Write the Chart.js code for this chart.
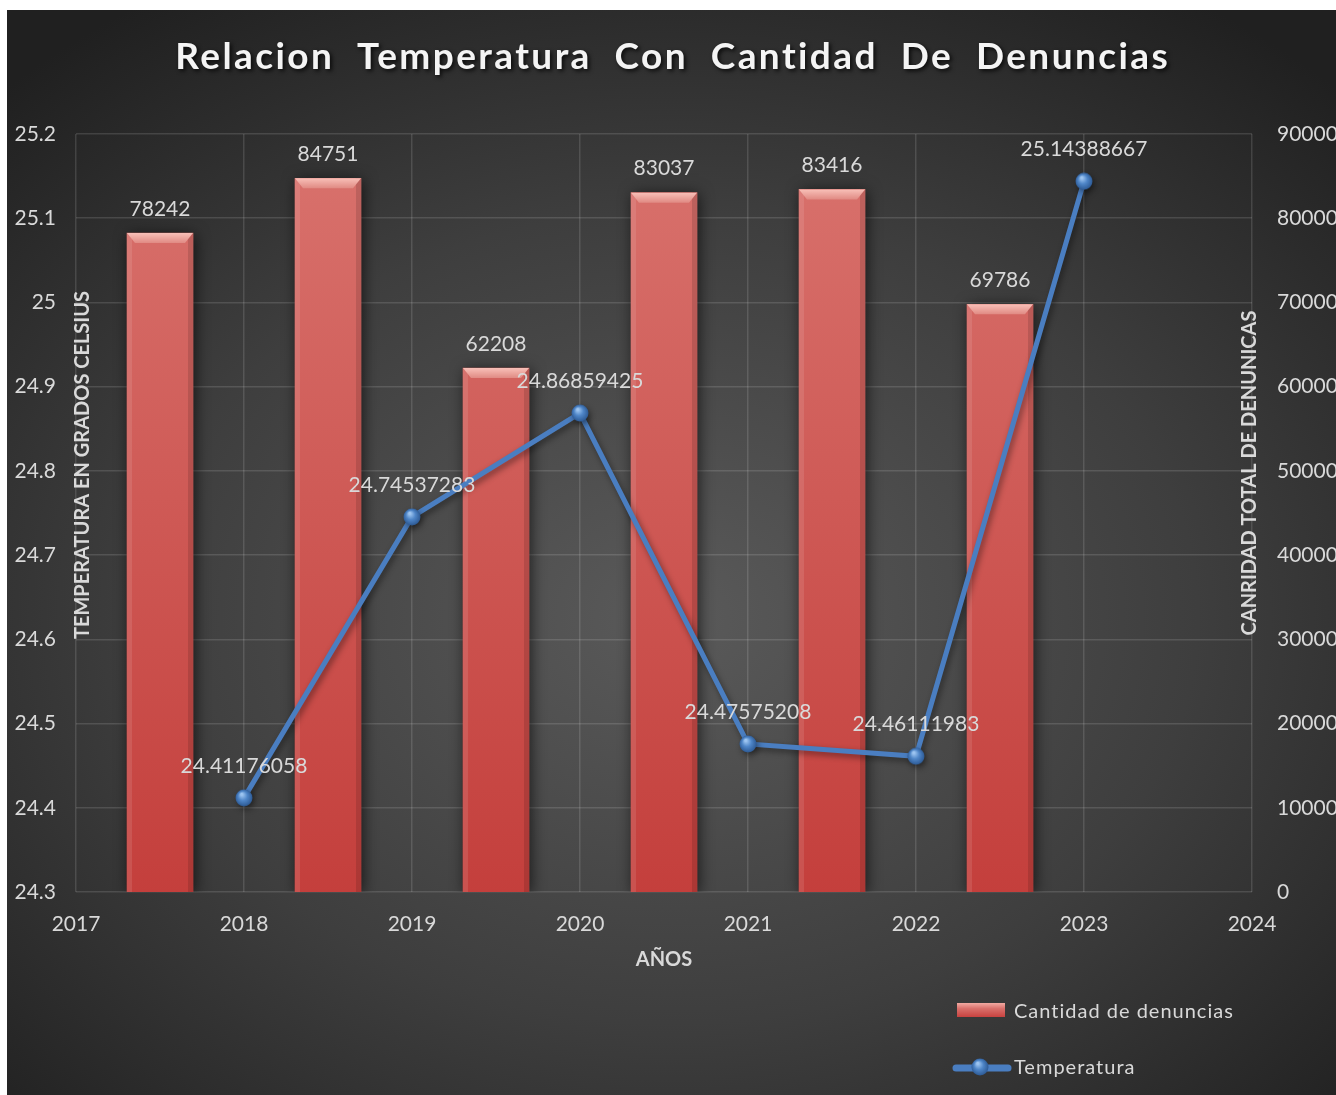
<!DOCTYPE html>
<html>
<head>
<meta charset="utf-8">
<script src="https://cdn.jsdelivr.net/npm/chart.js@4.4.1/dist/chart.umd.min.js"></script>
<style>
  html, body { margin: 0; padding: 0; background: #fff; }
  #wrap {
    position: absolute; left: 7px; top: 10px; width: 1329px; height: 1085px;
    background: radial-gradient(ellipse 72% 68% at 50% 56%, #5a5a5a 0%, #3e3e3e 55%, #202020 100%);
  }
  canvas { display: block; }
</style>
</head>
<body>
<div id="wrap"><canvas id="chart" width="1329" height="1085"></canvas></div>
<script>
// data
const years = [2018, 2019, 2020, 2021, 2022, 2023];
const denuncias = [78242, 84751, 62208, 83037, 83416, 69786];
const temperatura = [24.41176058, 24.74537283, 24.86859425, 24.47575208, 24.46111983, 25.14388667];
const xTicks = [2017, 2018, 2019, 2020, 2021, 2022, 2023, 2024];

const FONT = 'Lato, "Open Sans", sans-serif';
const TXT = '#d9d9d9';
const GRID = 'rgba(255,255,255,0.13)';

// little blue sphere for the points
function makeSphere(r) {
	const c = document.createElement('canvas');
	c.width = c.height = r * 2;
	const g = c.getContext('2d');
	const grad = g.createRadialGradient(r * 0.75, r * 0.6, 1, r, r, r);
	grad.addColorStop(0, '#9cc4f0');
	grad.addColorStop(0.45, '#4f86c8');
	grad.addColorStop(1, '#2a5690');
	g.fillStyle = grad;
	g.beginPath();
	g.arc(r, r, r - 0.5, 0, Math.PI * 2);
	g.fill();
	return c;
}
const sphere = makeSphere(9);

function barFill(c) {
	const a = c.chart.chartArea;
	if (!a) return '#cf5a56';
	const g = c.chart.ctx.createLinearGradient(0, a.top, 0, a.bottom);
	g.addColorStop(0, '#d9736e');
	g.addColorStop(1, '#c43f3c');
	return g;
}

// shadows + bevel on the bars
const shading = {
	id: 'shading',
	beforeDatasetDraw(chart, args) {
		const ctx = chart.ctx;
		ctx.save();
		if (args.meta.type === 'bar') {
			ctx.shadowColor = 'rgba(0,0,0,0.65)';
			ctx.shadowBlur = 14;
			ctx.shadowOffsetX = 2;
			ctx.shadowOffsetY = 2;
		} else {
			ctx.shadowColor = 'rgba(0,0,0,0.45)';
			ctx.shadowBlur = 6;
			ctx.shadowOffsetX = 2;
			ctx.shadowOffsetY = 3;
		}
	},
	afterDatasetDraw(chart, args) {
		const ctx = chart.ctx;
		ctx.restore();
		if (args.meta.type !== 'bar') return;
		args.meta.data.forEach(el => {
			const w = el.width, l = el.x - w / 2, r = el.x + w / 2, t = el.y, b = el.base;
			ctx.save();
			ctx.fillStyle = 'rgba(255,255,255,0.10)';
			ctx.fillRect(l, t, 5, b - t);
			ctx.fillStyle = 'rgba(0,0,0,0.12)';
			ctx.fillRect(r - 5, t, 5, b - t);
			const g = ctx.createLinearGradient(0, t, 0, t + 10);
			g.addColorStop(0, '#f8c0b8');
			g.addColorStop(1, '#e08a83');
			ctx.fillStyle = g;
			ctx.beginPath();
			ctx.moveTo(l, t);
			ctx.lineTo(r, t);
			ctx.lineTo(r - 8, t + 10);
			ctx.lineTo(l + 8, t + 10);
			ctx.closePath();
			ctx.fill();
			ctx.restore();
		});
	}
};

// value labels, titles and legend
const decor = {
	id: 'decor',
	afterDatasetsDraw(chart) {
		const ctx = chart.ctx;
		ctx.save();
		ctx.fillStyle = TXT;
		ctx.font = '21px ' + FONT;
		ctx.textAlign = 'center';
		ctx.textBaseline = 'middle';
		chart.data.datasets.forEach((ds, di) => {
			const meta = chart.getDatasetMeta(di);
			meta.data.forEach((el, i) => {
				if (meta.type === 'bar') {
					ctx.fillText(String(denuncias[i]), el.x, el.y - 24);
				} else {
					ctx.fillText(String(temperatura[i]), el.x, el.y - 32);
				}
			});
		});
		ctx.restore();
	},
	afterDraw(chart) {
		const ctx = chart.ctx;
		const a = chart.chartArea;
		ctx.save();

		// title
		const title = 'Relacion  Temperatura  Con  Cantidad  De  Denuncias';
		ctx.font = 'bold 37px ' + FONT;
		ctx.textBaseline = 'middle';
		ctx.textAlign = 'left';
		ctx.letterSpacing = '0px';
		const w0 = ctx.measureText(title).width;
		const ls = Math.max(0, (993 - w0) / (title.length - 1));
		ctx.letterSpacing = ls + 'px';
		const tw = ctx.measureText(title).width - ls;
		ctx.shadowColor = 'rgba(0,0,0,0.8)';
		ctx.shadowBlur = 4;
		ctx.shadowOffsetX = 2;
		ctx.shadowOffsetY = 2;
		ctx.fillStyle = '#f4f4f4';
		ctx.fillText(title, chart.width / 2 - tw / 2, 47);
		ctx.letterSpacing = '0px';
		ctx.shadowColor = 'transparent';

		// axis titles
		ctx.fillStyle = TXT;
		ctx.font = 'bold 20px ' + FONT;
		ctx.textAlign = 'center';
		ctx.fillText('AÑOS', (a.left + a.right) / 2, 950);

		ctx.save();
		ctx.translate(a.left + 7, 455);
		ctx.rotate(-Math.PI / 2);
		ctx.fillText('TEMPERATURA EN GRADOS CELSIUS', 0, 0);
		ctx.restore();

		ctx.save();
		ctx.translate(a.right - 2, 463);
		ctx.rotate(-Math.PI / 2);
		ctx.fillText('CANRIDAD TOTAL DE DENUNICAS', 0, 0);
		ctx.restore();

		// legend
		const sw = ctx.createLinearGradient(0, 993, 0, 1007);
		sw.addColorStop(0, '#f2aaa2');
		sw.addColorStop(0.4, '#d9706b');
		sw.addColorStop(1, '#c8423f');
		ctx.fillStyle = sw;
		ctx.fillRect(950, 993, 48, 14);

		ctx.strokeStyle = '#4a7ec1';
		ctx.lineWidth = 7;
		ctx.lineCap = 'round';
		ctx.beginPath();
		ctx.moveTo(949, 1058);
		ctx.lineTo(1001, 1058);
		ctx.stroke();
		ctx.drawImage(sphere, 973 - 9, 1058 - 10);

		ctx.fillStyle = TXT;
		ctx.font = '20px ' + FONT;
		ctx.textAlign = 'left';
		ctx.letterSpacing = '1px';
		ctx.fillText('Cantidad de denuncias', 1007, 1002);
		ctx.fillText('Temperatura', 1007, 1058);
		ctx.restore();
	}
};

const chart = new Chart(document.getElementById('chart'), {
	type: 'bar',
	data: {
		datasets: [
			{
				type: 'line',
				label: 'Temperatura',
				data: years.map((y, i) => ({ x: y, y: temperatura[i] })),
				yAxisID: 'yTemp',
				borderColor: '#4a7ec1',
				borderWidth: 5,
				pointStyle: sphere,
				pointRadius: 9,
				tension: 0,
				order: 1
			},
			{
				type: 'bar',
				label: 'Cantidad de denuncias',
				// bars sit half a year before each point
				data: years.map((y, i) => ({ x: y - 0.5, y: denuncias[i] })),
				yAxisID: 'yDen',
				barThickness: 66,
				backgroundColor: barFill,
				borderWidth: 0,
				order: 2
			}
		]
	},
	options: {
		responsive: false,
		devicePixelRatio: 1,
		animation: false,
		layout: { padding: { top: 124, left: 0, right: 0, bottom: 0 } },
		plugins: {
			legend: { display: false },
			title: { display: false },
			tooltip: { enabled: false }
		},
		scales: {
			x: {
				type: 'linear',
				min: xTicks[0],
				max: xTicks[xTicks.length - 1],
				offset: false,
				afterBuildTicks: s => { s.ticks = xTicks.map(v => ({ value: v })); },
				ticks: { color: TXT, font: { family: FONT, size: 21 }, padding: 20, callback: v => String(v) },
				grid: { color: GRID, lineWidth: 1.5, drawTicks: false, offset: false },
				border: { display: false },
				afterFit: s => { s.height = 203; }
			},
			yTemp: {
				type: 'linear',
				position: 'left',
				min: 24.3,
				max: 25.2,
				ticks: { stepSize: 0.1, color: TXT, font: { family: FONT, size: 21 }, padding: 20, callback: v => String(Number(v.toFixed(1))) },
				grid: { color: GRID, lineWidth: 1.5, drawTicks: false },
				border: { display: false },
				afterFit: s => { s.width = 69; }
			},
			yDen: {
				type: 'linear',
				position: 'right',
				min: 0,
				max: 90000,
				ticks: { stepSize: 10000, color: TXT, font: { family: FONT, size: 21 }, padding: 25, callback: v => String(v) },
				grid: { display: false, drawTicks: false },
				border: { display: false },
				afterFit: s => { s.width = 84; }
			}
		}
	},
	plugins: [shading, decor]
});
</script>
</body>
</html>
